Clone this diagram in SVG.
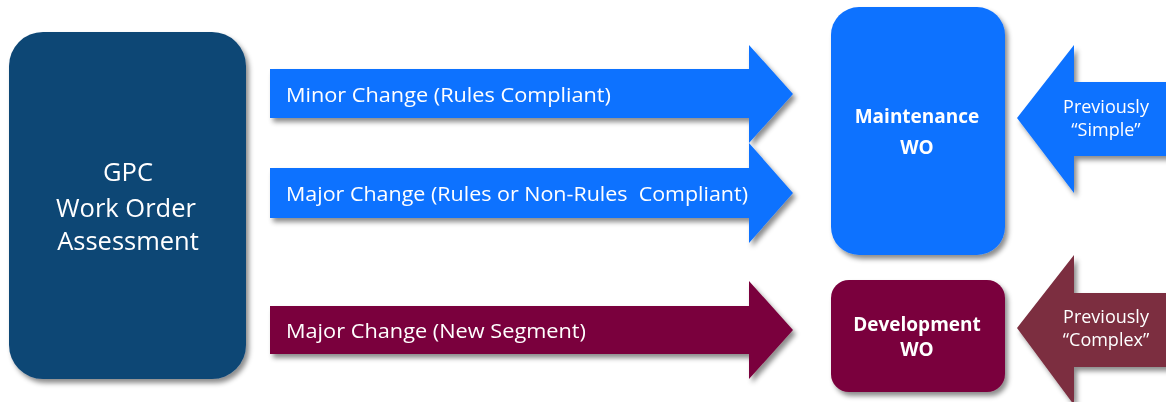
<svg xmlns="http://www.w3.org/2000/svg" width="1166" height="402" viewBox="0 0 1166 402">
<defs>
<filter id="sh" x="-10%" y="-10%" width="130%" height="130%">
<feDropShadow dx="3" dy="4" stdDeviation="2.5" flood-color="#000" flood-opacity="0.45"/>
</filter>
<style>
text{font-family:"Open Sans","Liberation Sans",sans-serif;fill:#fff}
.lbl{font-size:20px}
.big{font-size:25.5px;text-anchor:middle}
.bold{font-size:19px;font-weight:bold;text-anchor:middle}
.prev{font-size:18px;text-anchor:middle}
.blue{fill:#1172FF}
.maroon{fill:#7A003C}
.muted{fill:#7B2F40}
</style>
</defs>
<rect width="1166" height="402" fill="#fff"/>
<g id="connectors" filter="url(#sh)">
<g id="arrow-minor">
<polygon class="blue" points="270,69 749,69 749,45 793,94 749,143 749,118 270,118"/>
<text class="lbl" x="286" y="102" textLength="325" lengthAdjust="spacingAndGlyphs">Minor Change (Rules Compliant)</text>
</g>
<g id="arrow-major">
<polygon class="blue" points="270,168 749,168 749,143 793,193 749,243 749,218 270,218"/>
<text class="lbl" x="286" y="201" textLength="462" lengthAdjust="spacingAndGlyphs" xml:space="preserve">Major Change (Rules or Non-Rules  Compliant)</text>
</g>
<g id="arrow-new">
<polygon class="maroon" points="270,306 749,306 749,281 793,330 749,379 749,354 270,354"/>
<text class="lbl" x="286" y="338" textLength="300" lengthAdjust="spacingAndGlyphs">Major Change (New Segment)</text>
</g>
<g id="arrow-simple">
<polygon class="blue" points="1017,118 1074,45 1074,82 1175,82 1175,156 1074,156 1074,193"/>
<text class="prev" x="1106" y="113">Previously</text>
<text class="prev" x="1106" y="136">“Simple”</text>
</g>
<g id="arrow-complex">
<polygon class="muted" points="1017,328 1074,255 1074,293 1175,293 1175,367 1074,367 1074,405"/>
<text class="prev" x="1106" y="323">Previously</text>
<text class="prev" x="1106" y="346">“Complex”</text>
</g>
</g>
<g id="gpc" filter="url(#sh)">
<rect x="9" y="32" width="237" height="347" rx="34" fill="#0E4675"/>
<text class="big" x="128" y="181">GPC</text>
<text class="big" x="126" y="217">Work Order</text>
<text class="big" x="128" y="250">Assessment</text>
</g>
<g id="maintenance" filter="url(#sh)">
<rect x="831" y="7" width="174" height="248" rx="28" class="blue"/>
<text class="bold" x="917" y="123">Maintenance</text>
<text class="bold" x="917" y="154">WO</text>
</g>
<g id="development" filter="url(#sh)">
<rect x="831" y="280" width="174" height="112" rx="18" class="maroon"/>
<text class="bold" x="917" y="331">Development</text>
<text class="bold" x="917" y="356">WO</text>
</g>
</svg>
